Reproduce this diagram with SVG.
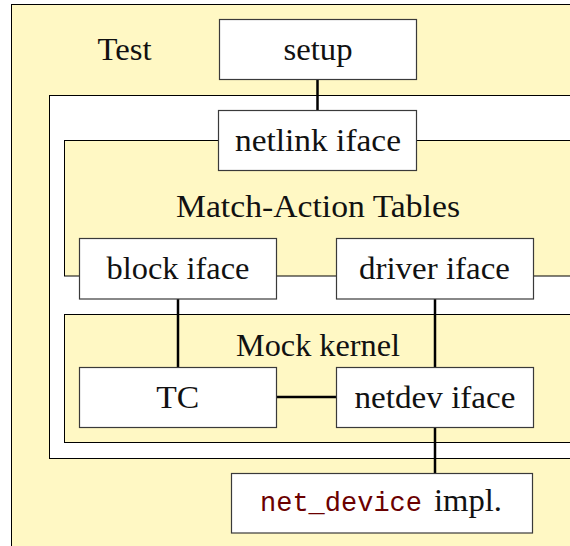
<svg xmlns="http://www.w3.org/2000/svg" width="570" height="546" viewBox="0 0 570 546">
<style>
.area{fill:#FFF8C4;stroke:#000;stroke-width:1}
.white{fill:#fff;stroke:#000;stroke-width:1}
.box{fill:#fff;stroke:#3a3a3a;stroke-width:1.2}
.lbl{font-family:"Liberation Serif","Times New Roman",serif;font-size:32px;fill:#111;text-anchor:middle}
.code{font-family:"Liberation Mono","Courier New",monospace;font-size:27px;fill:#6B0000}
.conn{stroke:#000;stroke-width:2.5;fill:none}
</style>
<g id="test-area">
<rect class="area" x="11.5" y="4.5" width="620" height="600"/>
<text class="lbl" x="124.5" y="60.3" textLength="54" lengthAdjust="spacingAndGlyphs">Test</text>
</g>
<g id="kernel-area">
<rect class="white" x="49.5" y="95.5" width="560" height="363"/>
</g>
<g id="match-action-tables">
<rect class="area" x="64.5" y="140.5" width="540" height="135.5"/>
<text class="lbl" x="318" y="216.7" textLength="284" lengthAdjust="spacingAndGlyphs">Match-Action Tables</text>
</g>
<g id="mock-kernel">
<rect class="area" x="64.5" y="314.5" width="540" height="128"/>
<text class="lbl" x="318" y="356" textLength="164" lengthAdjust="spacingAndGlyphs">Mock kernel</text>
</g>
<g id="connectors">
<line class="conn" x1="317.5" y1="80" x2="317.5" y2="110"/>
<line class="conn" x1="178" y1="299" x2="178" y2="367"/>
<line class="conn" x1="435" y1="299" x2="435" y2="367"/>
<line class="conn" x1="276" y1="397" x2="336" y2="397"/>
<line class="conn" x1="435" y1="427" x2="435" y2="473"/>
</g>
<g id="setup">
<rect class="box" x="219.5" y="19.5" width="197" height="60"/>
<text class="lbl" x="318" y="60" textLength="69" lengthAdjust="spacingAndGlyphs">setup</text>
</g>
<g id="netlink-iface">
<rect class="box" x="218.5" y="110.5" width="198" height="60"/>
<text class="lbl" x="318" y="150.7" textLength="166" lengthAdjust="spacingAndGlyphs">netlink iface</text>
</g>
<g id="block-iface">
<rect class="box" x="79.5" y="238.5" width="197" height="60.5"/>
<text class="lbl" x="178" y="279" textLength="143" lengthAdjust="spacingAndGlyphs">block iface</text>
</g>
<g id="driver-iface">
<rect class="box" x="336.5" y="238.5" width="197" height="60.5"/>
<text class="lbl" x="434.5" y="279" textLength="151" lengthAdjust="spacingAndGlyphs">driver iface</text>
</g>
<g id="tc">
<rect class="box" x="79.5" y="367.5" width="197" height="60"/>
<text class="lbl" x="177.8" y="408.3" textLength="43" lengthAdjust="spacingAndGlyphs">TC</text>
</g>
<g id="netdev-iface">
<rect class="box" x="336.5" y="367.5" width="197" height="60"/>
<text class="lbl" x="435" y="408.3" textLength="161" lengthAdjust="spacingAndGlyphs">netdev iface</text>
</g>
<g id="net-device-impl">
<rect class="box" x="231.5" y="473.5" width="301" height="59.5"/>
<text x="260" y="510.7"><tspan class="code">net_device</tspan><tspan class="lbl" x="434" y="510.7" style="text-anchor:start" textLength="68" lengthAdjust="spacingAndGlyphs">impl.</tspan></text>
</g>
</svg>
